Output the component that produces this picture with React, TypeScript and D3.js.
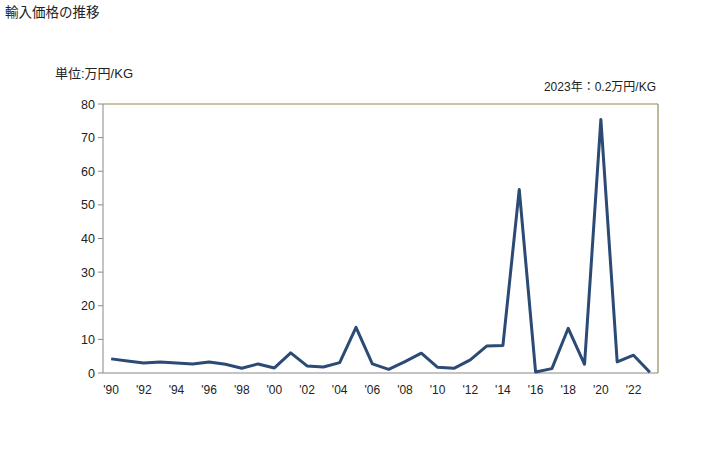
import React from "react";
import * as d3 from "d3";

const years = d3.range(1990, 2024);
const values = [4.2, 3.6, 3.0, 3.3, 3.0, 2.7, 3.3, 2.6, 1.4, 2.7, 1.5, 6.0, 2.1, 1.8, 3.1, 13.6, 2.7, 1.1, 3.4, 5.9, 1.7, 1.4, 3.9, 8.0, 8.2, 54.6, 0.3, 1.3, 13.3, 2.6, 75.4, 3.3, 5.3, 0.2];
const yTicks = [0, 10, 20, 30, 40, 50, 60, 70, 80];
const title = "輸入価格の推移";
const unitLabel = "単位:万円/KG";
const note = "2023年：0.2万円/KG";

export default function App() {
  const W = 728, H = 450;
  const m = { left: 103, right: 658, top: 104, bottom: 373 };
  const x = d3.scalePoint<number>().domain(years).range([m.left, m.right]).padding(0.5);
  const y = d3.scaleLinear().domain([0, 80]).range([m.bottom, m.top]);
  const line = d3.line<number>().x((_, i) => x(years[i])!).y((d) => y(d));
  const font = "'Liberation Sans', 'Noto Sans CJK JP', sans-serif";
  return (
    <svg width={W} height={H} style={{ position: "absolute", left: 0, top: 0 }} fontFamily={font}>
      <rect width={W} height={H} fill="#fff" />
      <text x={5} y={17} fontSize={13.5} fill="#222">{title}</text>
      <text x={55} y={78} fontSize={13} fill="#222">{unitLabel}</text>
      <text x={656} y={91} fontSize={12} fill="#222" textAnchor="end">{note}</text>
      <line x1={m.left} x2={m.right} y1={m.top} y2={m.top} stroke="#948a52" strokeWidth={1.2} />
      <line x1={m.right} x2={m.right} y1={m.top} y2={m.bottom} stroke="#948a52" strokeWidth={1.2} />
      <line x1={m.left} x2={m.left} y1={m.top} y2={m.bottom} stroke="#888" />
      <line x1={m.left} x2={m.right} y1={m.bottom} y2={m.bottom} stroke="#888" />
      {yTicks.map((t) => (
        <g key={t}>
          <line x1={m.left - 5} x2={m.left} y1={y(t)} y2={y(t)} stroke="#888" />
          <text x={m.left - 8} y={y(t) + 4.5} fontSize={12.5} textAnchor="end" fill="#222">{t}</text>
        </g>
      ))}
      {years.filter((yr) => yr % 2 === 0).map((yr) => (
        <text key={yr} x={x(yr)!} y={394} fontSize={12} textAnchor="middle" fill="#222">
          {"'" + String(yr % 100).padStart(2, "0")}
        </text>
      ))}
      <path d={line(values) || ""} fill="none" stroke="#2b4a74" strokeWidth={3} strokeLinejoin="round" />
    </svg>
  );
}
